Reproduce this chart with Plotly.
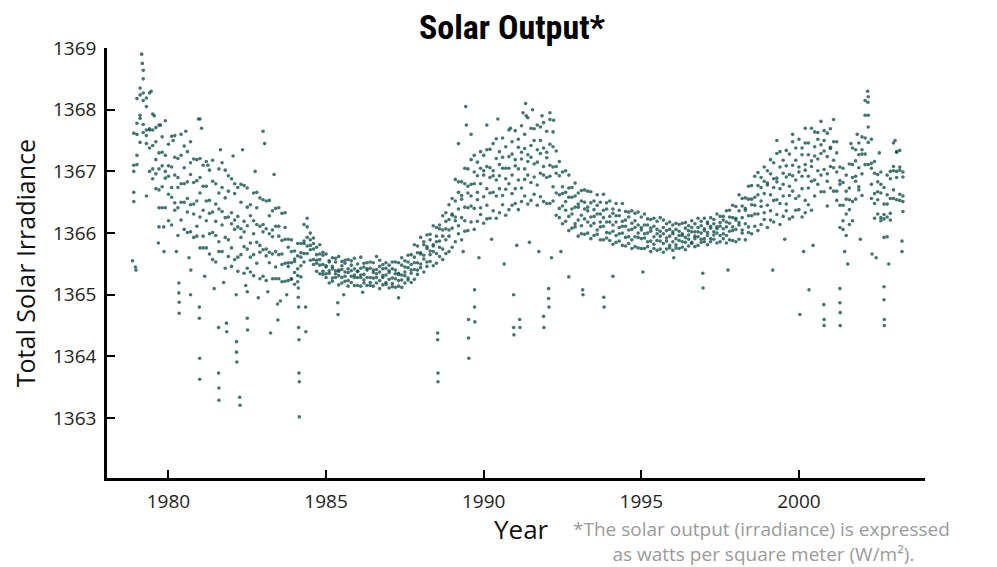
import numpy as np
import plotly.graph_objects as go

# sampling times: one reading every 0.1 year, 1978.9 .. 2003.3
sample_year = np.round(1978.9 + 0.1 * np.arange(245), 2)

tsi_upper = [
    1367.62,
    1368.18, 1368.35, 1368.64, 1368.19, 1368.27, 1367.93, 1367.71, 1367.75, 1367.56, 1367.82,  # 1979
    1367.44, 1367.57, 1367.58, 1367.21, 1367.60, 1367.41, 1367.32, 1367.48, 1367.20, 1367.19,  # 1980
    1367.21, 1367.10, 1367.16, 1367.02, 1367.18, 1366.80, 1367.04, 1367.14, 1367.02, 1366.93,  # 1981
    1366.88, 1366.80, 1366.74, 1366.79, 1366.77, 1366.73, 1366.46, 1366.65, 1366.66, 1366.57,  # 1982
    1366.54, 1366.52, 1366.53, 1366.36, 1366.40, 1366.41, 1366.32, 1366.33, 1365.90, 1365.89,  # 1983
    1365.71, 1365.83, 1365.83, 1366.14, 1366.24, 1366.00, 1365.92, 1365.77, 1365.81, 1365.69,  # 1984
    1365.66, 1365.55, 1365.60, 1365.59, 1365.62, 1365.54, 1365.56, 1365.57, 1365.55, 1365.59,  # 1985
    1365.50, 1365.61, 1365.51, 1365.52, 1365.53, 1365.52, 1365.62, 1365.56, 1365.49, 1365.52,  # 1986
    1365.48, 1365.53, 1365.53, 1365.52, 1365.60, 1365.55, 1365.64, 1365.65, 1365.81, 1365.79,  # 1987
    1365.93, 1365.86, 1365.97, 1365.98, 1366.12, 1366.09, 1366.13, 1366.28, 1366.33, 1366.46,  # 1988
    1366.56, 1366.87, 1366.83, 1366.83, 1367.05, 1367.04, 1367.19, 1367.26, 1367.15, 1367.32,  # 1989
    1367.26, 1367.35, 1367.36, 1367.45, 1367.53, 1367.32, 1367.54, 1367.40, 1367.67, 1367.48,  # 1990
    1367.66, 1367.52, 1367.74, 1367.60, 1367.87, 1367.70, 1367.69, 1367.75, 1367.72, 1367.79,  # 1991
    1367.65, 1367.84, 1367.64, 1367.33, 1367.16, 1366.99, 1367.01, 1366.94, 1366.74, 1366.81,  # 1992
    1366.65, 1366.69, 1366.70, 1366.68, 1366.67, 1366.52, 1366.62, 1366.50, 1366.63, 1366.49,  # 1993
    1366.52, 1366.39, 1366.48, 1366.37, 1366.48, 1366.35, 1366.34, 1366.36, 1366.32, 1366.34,  # 1994
    1366.26, 1366.31, 1366.23, 1366.22, 1366.24, 1366.19, 1366.25, 1366.21, 1366.15, 1366.18,  # 1995
    1366.13, 1366.16, 1366.14, 1366.16, 1366.17, 1366.12, 1366.20, 1366.15, 1366.24, 1366.19,  # 1996
    1366.24, 1366.18, 1366.25, 1366.22, 1366.31, 1366.27, 1366.27, 1366.36, 1366.37, 1366.45,  # 1997
    1366.43, 1366.62, 1366.56, 1366.57, 1366.76, 1366.77, 1366.92, 1366.98, 1366.90, 1367.07,  # 1998
    1367.01, 1367.19, 1367.14, 1367.29, 1367.32, 1367.18, 1367.34, 1367.28, 1367.48, 1367.38,  # 1999
    1367.52, 1367.38, 1367.46, 1367.46, 1367.70, 1367.64, 1367.63, 1367.81, 1367.66, 1367.62,  # 2000
    1367.69, 1367.84, 1367.48, 1367.07, 1367.05, 1366.94, 1367.12, 1367.38, 1367.35, 1367.46,  # 2001
    1367.56, 1368.15, 1368.21, 1367.52, 1367.16, 1366.95, 1366.99, 1366.74, 1366.94, 1367.00,  # 2002
    1367.46, 1367.32, 1367.34, 1366.99,  # 2003
]

tsi_high = [
    1367.10,
    1367.78, 1368.24, 1368.27, 1368.05, 1367.69, 1367.67, 1367.48, 1367.30, 1367.31, 1367.26,
    1367.09, 1367.07, 1367.23, 1366.90, 1367.26, 1367.06, 1366.83, 1367.14, 1366.82, 1366.85,
    1366.90, 1366.76, 1366.76, 1366.53, 1366.84, 1366.47, 1366.65, 1366.74, 1366.57, 1366.68,
    1366.33, 1366.64, 1366.27, 1366.50, 1366.19, 1366.42, 1366.28, 1366.20, 1366.41, 1366.11,
    1366.14, 1366.07, 1366.28, 1366.05, 1366.11, 1366.11, 1365.88, 1366.09, 1365.77, 1365.70,
    1365.58, 1365.63, 1365.68, 1365.87, 1366.10, 1365.89, 1365.83, 1365.65, 1365.66, 1365.64,
    1365.47, 1365.53, 1365.46, 1365.53, 1365.40, 1365.47, 1365.51, 1365.42, 1365.48, 1365.42,
    1365.38, 1365.43, 1365.45, 1365.42, 1365.43, 1365.40, 1365.41, 1365.46, 1365.42, 1365.43,
    1365.39, 1365.42, 1365.40, 1365.35, 1365.48, 1365.45, 1365.53, 1365.49, 1365.61, 1365.68,
    1365.68, 1365.81, 1365.78, 1365.89, 1365.81, 1365.95, 1366.07, 1366.05, 1366.19, 1366.22,
    1366.29, 1366.52, 1366.66, 1366.61, 1366.80, 1366.76, 1366.79, 1366.99, 1366.93, 1367.05,
    1367.01, 1367.08, 1367.06, 1367.01, 1367.21, 1367.11, 1367.23, 1367.05, 1367.24, 1367.28,
    1367.19, 1367.39, 1367.31, 1367.37, 1367.27, 1367.42, 1367.50, 1367.35, 1367.50, 1367.38,
    1367.31, 1367.44, 1367.40, 1367.08, 1366.93, 1366.75, 1366.66, 1366.73, 1366.58, 1366.60,
    1366.47, 1366.52, 1366.50, 1366.42, 1366.49, 1366.38, 1366.45, 1366.31, 1366.37, 1366.39,
    1366.27, 1366.32, 1366.28, 1366.28, 1366.19, 1366.21, 1366.26, 1366.16, 1366.20, 1366.13,
    1366.09, 1366.13, 1366.13, 1366.08, 1366.11, 1366.06, 1366.03, 1366.09, 1366.04, 1366.06,
    1366.02, 1366.06, 1366.03, 1365.99, 1366.08, 1366.04, 1366.09, 1366.02, 1366.09, 1366.12,
    1366.07, 1366.15, 1366.11, 1366.15, 1366.10, 1366.17, 1366.21, 1366.18, 1366.26, 1366.25,
    1366.21, 1366.36, 1366.44, 1366.40, 1366.55, 1366.55, 1366.58, 1366.77, 1366.74, 1366.84,
    1366.81, 1366.96, 1366.88, 1366.89, 1367.07, 1366.97, 1367.09, 1366.95, 1367.10, 1367.18,
    1367.07, 1367.27, 1367.11, 1367.27, 1367.17, 1367.40, 1367.52, 1367.43, 1367.50, 1367.24,
    1367.39, 1367.48, 1367.30, 1366.85, 1366.82, 1366.68, 1366.73, 1367.11, 1367.17, 1367.27,
    1367.35, 1367.91, 1367.91, 1367.13, 1366.97, 1366.83, 1366.79, 1366.47, 1366.62, 1366.88,
    1367.08, 1367.31, 1367.07, 1366.91,
]

tsi_mid = [
    1367.00,
    1367.60, 1367.91, 1368.15, 1367.67, 1367.67, 1367.42, 1367.19, 1367.04, 1367.09, 1367.00,
    1366.92, 1366.74, 1366.94, 1366.74, 1366.80, 1366.80, 1366.56, 1366.95, 1366.47, 1366.52,
    1366.65, 1366.37, 1366.52, 1366.32, 1366.34, 1366.19, 1366.39, 1366.35, 1366.25, 1366.26,
    1366.15, 1366.21, 1366.10, 1366.07, 1366.02, 1366.12, 1365.84, 1365.99, 1366.14, 1365.80,
    1366.02, 1365.74, 1365.99, 1365.94, 1365.70, 1365.95, 1365.66, 1365.90, 1365.52, 1365.52,
    1365.54, 1365.42, 1365.61, 1365.83, 1365.93, 1365.80, 1365.74, 1365.56, 1365.57, 1365.49,
    1365.45, 1365.39, 1365.42, 1365.39, 1365.38, 1365.41, 1365.37, 1365.36, 1365.39, 1365.32,
    1365.38, 1365.32, 1365.33, 1365.40, 1365.28, 1365.36, 1365.34, 1365.37, 1365.31, 1365.32,
    1365.36, 1365.27, 1365.34, 1365.33, 1365.32, 1365.37, 1365.44, 1365.40, 1365.52, 1365.52,
    1365.66, 1365.64, 1365.75, 1365.71, 1365.79, 1365.86, 1365.87, 1365.95, 1366.07, 1366.05,
    1366.31, 1366.26, 1366.39, 1366.55, 1366.42, 1366.65, 1366.60, 1366.80, 1366.66, 1366.80,
    1366.94, 1366.72, 1366.90, 1366.93, 1366.86, 1366.93, 1367.05, 1366.88, 1367.05, 1366.94,
    1367.09, 1367.04, 1367.20, 1367.04, 1367.16, 1367.23, 1367.12, 1367.15, 1367.29, 1367.08,
    1367.22, 1367.10, 1367.07, 1366.97, 1366.62, 1366.64, 1366.51, 1366.58, 1366.39, 1366.42,
    1366.42, 1366.29, 1366.39, 1366.36, 1366.26, 1366.27, 1366.31, 1366.18, 1366.25, 1366.18,
    1366.18, 1366.13, 1366.18, 1366.09, 1366.11, 1366.11, 1366.05, 1366.06, 1366.09, 1366.00,
    1366.05, 1365.99, 1366.00, 1366.03, 1365.94, 1365.99, 1365.95, 1365.99, 1365.92, 1365.95,
    1365.99, 1365.91, 1365.96, 1365.96, 1365.93, 1365.97, 1366.02, 1365.95, 1366.02, 1366.00,
    1366.04, 1366.01, 1366.08, 1366.02, 1366.07, 1366.11, 1366.07, 1366.10, 1366.16, 1366.10,
    1366.24, 1366.17, 1366.25, 1366.37, 1366.28, 1366.46, 1366.45, 1366.62, 1366.52, 1366.64,
    1366.78, 1366.62, 1366.74, 1366.83, 1366.72, 1366.79, 1366.91, 1366.76, 1366.93, 1366.86,
    1366.99, 1366.92, 1367.02, 1366.92, 1367.08, 1367.25, 1367.20, 1367.29, 1367.33, 1366.96,
    1367.37, 1367.18, 1366.99, 1366.79, 1366.45, 1366.55, 1366.54, 1366.90, 1366.92, 1367.06,
    1367.28, 1367.54, 1367.72, 1367.05, 1366.64, 1366.67, 1366.65, 1366.30, 1366.47, 1366.56,
    1367.01, 1367.00, 1367.02, 1366.60,
]

tsi_low = [
    1366.66,
    1367.26, 1367.86, 1367.76, 1367.58, 1367.38, 1367.04, 1366.96, 1366.70, 1366.75, 1366.89,
    1366.63, 1366.58, 1366.49, 1366.41, 1366.50, 1366.50, 1366.34, 1366.46, 1366.31, 1366.11,
    1366.26, 1365.95, 1366.20, 1365.99, 1366.01, 1365.96, 1365.86, 1366.13, 1365.93, 1365.89,
    1365.76, 1366.06, 1365.61, 1365.93, 1365.78, 1365.74, 1365.61, 1365.65, 1365.85, 1365.69,
    1365.73, 1365.63, 1365.69, 1365.66, 1365.45, 1365.65, 1365.49, 1365.51, 1365.46, 1365.26,
    1365.36, 1365.31, 1365.47, 1365.67, 1365.79, 1365.73, 1365.57, 1365.51, 1365.48, 1365.38,
    1365.34, 1365.35, 1365.27, 1365.34, 1365.31, 1365.28, 1365.30, 1365.23, 1365.30, 1365.28,
    1365.28, 1365.28, 1365.24, 1365.28, 1365.20, 1365.27, 1365.28, 1365.23, 1365.28, 1365.20,
    1365.25, 1365.18, 1365.26, 1365.23, 1365.24, 1365.31, 1365.27, 1365.35, 1365.41, 1365.40,
    1365.50, 1365.58, 1365.53, 1365.65, 1365.70, 1365.67, 1365.77, 1365.74, 1365.89, 1365.95,
    1366.08, 1366.20, 1366.12, 1366.25, 1366.20, 1366.41, 1366.44, 1366.40, 1366.54, 1366.41,
    1366.59, 1366.45, 1366.65, 1366.66, 1366.60, 1366.72, 1366.61, 1366.71, 1366.80, 1366.64,
    1366.72, 1366.86, 1366.73, 1366.87, 1366.94, 1366.82, 1366.91, 1366.78, 1366.97, 1366.94,
    1366.90, 1366.92, 1366.75, 1366.65, 1366.40, 1366.44, 1366.37, 1366.27, 1366.31, 1366.15,
    1366.21, 1366.12, 1366.23, 1366.18, 1366.12, 1366.16, 1366.05, 1366.10, 1366.11, 1366.01,
    1366.00, 1366.03, 1365.96, 1365.99, 1366.00, 1365.93, 1365.94, 1365.89, 1365.94, 1365.93,
    1365.91, 1365.92, 1365.86, 1365.87, 1365.82, 1365.88, 1365.87, 1365.83, 1365.87, 1365.80,
    1365.86, 1365.81, 1365.88, 1365.86, 1365.85, 1365.90, 1365.85, 1365.91, 1365.94, 1365.90,
    1365.91, 1365.96, 1365.91, 1365.97, 1366.00, 1365.96, 1365.99, 1365.96, 1366.03, 1366.04,
    1366.06, 1366.13, 1366.05, 1366.15, 1366.10, 1366.28, 1366.31, 1366.31, 1366.43, 1366.33,
    1366.45, 1366.36, 1366.53, 1366.54, 1366.48, 1366.60, 1366.47, 1366.61, 1366.68, 1366.56,
    1366.60, 1366.72, 1366.53, 1366.73, 1366.84, 1366.86, 1367.01, 1366.94, 1367.03, 1366.84,
    1367.08, 1367.06, 1366.68, 1366.45, 1366.20, 1366.31, 1366.38, 1366.51, 1366.84, 1366.75,
    1366.96, 1367.28, 1367.47, 1366.79, 1366.48, 1366.54, 1366.25, 1366.23, 1366.26, 1366.32,
    1366.70, 1366.90, 1366.63, 1366.51,
]

tsi_lower = [
    1366.51,
    1367.11, 1367.47, 1367.63, 1367.45, 1367.00, 1366.88, 1366.72, 1366.41, 1366.41, 1366.41,
    1366.20, 1366.13, 1366.37, 1365.96, 1366.21, 1366.06, 1366.01, 1366.02, 1365.93, 1365.95,
    1365.76, 1365.76, 1365.76, 1365.66, 1365.57, 1365.53, 1365.70, 1365.70, 1365.43, 1365.62,
    1365.46, 1365.57, 1365.38, 1365.65, 1365.35, 1365.43, 1365.37, 1365.31, 1365.51, 1365.26,
    1365.30, 1365.23, 1365.52, 1365.26, 1365.26, 1365.26, 1365.21, 1365.22, 1365.23, 1365.25,
    1365.17, 1365.21, 1365.29, 1365.53, 1365.67, 1365.56, 1365.49, 1365.38, 1365.34, 1365.33,
    1365.28, 1365.19, 1365.22, 1365.28, 1365.16, 1365.19, 1365.22, 1365.14, 1365.20, 1365.15,
    1365.15, 1365.14, 1365.19, 1365.15, 1365.15, 1365.14, 1365.19, 1365.10, 1365.16, 1365.17,
    1365.11, 1365.13, 1365.12, 1365.14, 1365.12, 1365.19, 1365.24, 1365.20, 1365.25, 1365.33,
    1365.44, 1365.37, 1365.46, 1365.54, 1365.47, 1365.51, 1365.62, 1365.57, 1365.67, 1365.70,
    1365.77, 1365.86, 1365.99, 1365.89, 1366.03, 1366.04, 1366.18, 1366.06, 1366.19, 1366.30,
    1366.16, 1366.23, 1366.24, 1366.36, 1366.24, 1366.33, 1366.46, 1366.29, 1366.38, 1366.45,
    1366.48, 1366.38, 1366.51, 1366.60, 1366.47, 1366.53, 1366.63, 1366.45, 1366.59, 1366.51,
    1366.48, 1366.48, 1366.52, 1366.29, 1366.25, 1366.15, 1366.19, 1366.04, 1366.08, 1366.10,
    1365.95, 1365.99, 1365.98, 1366.00, 1365.91, 1365.96, 1365.98, 1365.89, 1365.89, 1365.92,
    1365.88, 1365.82, 1365.85, 1365.87, 1365.80, 1365.79, 1365.83, 1365.75, 1365.78, 1365.76,
    1365.75, 1365.75, 1365.78, 1365.70, 1365.75, 1365.72, 1365.74, 1365.69, 1365.74, 1365.76,
    1365.72, 1365.76, 1365.75, 1365.77, 1365.73, 1365.79, 1365.83, 1365.78, 1365.80, 1365.85,
    1365.86, 1365.81, 1365.86, 1365.90, 1365.84, 1365.86, 1365.91, 1365.84, 1365.89, 1365.88,
    1365.86, 1365.90, 1366.00, 1365.89, 1366.01, 1365.99, 1366.11, 1366.04, 1366.14, 1366.22,
    1366.09, 1366.21, 1366.18, 1366.30, 1366.14, 1366.27, 1366.36, 1366.23, 1366.26, 1366.37,
    1366.38, 1366.26, 1366.33, 1366.46, 1366.37, 1366.60, 1366.79, 1366.67, 1366.67, 1366.44,
    1366.73, 1366.68, 1366.53, 1366.09, 1366.06, 1365.96, 1366.14, 1366.20, 1366.55, 1366.70,
    1366.61, 1367.11, 1367.11, 1366.56, 1366.24, 1366.31, 1366.20, 1365.93, 1365.94, 1366.21,
    1366.56, 1366.54, 1366.53, 1366.35,
]

# stray readings: sunspot dips, high spikes and the wide scatter of active years
extra_year = [
    1978.86, 1978.95, 1978.97, 1979.68, 1979.70, 1979.86,
    1980.33, 1980.33, 1980.34, 1980.34, 1980.70, 1980.71,
    1980.98, 1980.98, 1980.99, 1980.99, 1981.59, 1981.59, 1981.60, 1981.60,
    1981.84, 1981.85, 1982.16, 1982.16, 1982.17, 1982.26, 1982.27,
    1982.50, 1982.50, 1982.51, 1983.24, 1983.46, 1983.47,
    1984.12, 1984.12, 1984.13, 1984.13, 1984.14, 1984.14, 1984.15, 1984.15,
    1984.35, 1984.36, 1985.37, 1985.38, 1985.56, 1986.16, 1987.30,
    1988.54, 1988.54, 1988.55, 1988.55, 1989.52, 1989.52, 1989.53,
    1989.71, 1989.71, 1989.72, 1990.95, 1990.95, 1990.96, 1991.14, 1991.15,
    1991.90, 1991.91, 1992.06, 1992.06, 1992.07, 1992.70, 1993.14, 1993.15,
    1993.81, 1993.82, 1994.10, 1995.05, 1996.03, 1996.95, 1996.96, 1997.75, 1999.17,
    2000.03, 2000.32, 2000.79, 2000.80, 2000.80,
    2001.30, 2001.30, 2001.31, 2001.31, 2001.55, 2002.32,
    2002.70, 2002.70, 2002.71, 2002.71, 2003.27, 2003.27,
    1979.15, 1979.17, 1979.20, 1981.00, 1983.00, 1989.43, 1989.45,
    1991.33, 1991.35, 1992.22, 2002.18, 2002.19,
    1979.45, 1979.55, 1979.75, 1980.15, 1980.55, 1980.95, 1981.05, 1981.25,
    1981.65, 1982.05, 1982.35, 1982.75, 1983.05, 1983.35,
    1979.30, 1979.85, 1980.25, 1980.65, 1981.15, 1981.45, 1981.75, 1982.15,
    1982.45, 1982.85, 1983.15, 1983.55, 1983.75,
    1989.20, 1989.60, 1990.10, 1990.45, 1990.85, 1991.25, 1991.55, 1991.85, 1992.10,
    1989.35, 1989.85, 1990.25, 1990.65, 1991.05, 1991.45, 1991.75, 1992.15, 1992.45,
    1999.30, 1999.80, 2000.20, 2001.65, 2001.85, 2002.55, 2003.05,
    1999.55, 2000.15, 2000.45, 2001.45, 2001.95, 2002.45, 2002.85,
]
extra_tsi = [
    1365.55, 1365.45, 1365.40, 1365.84, 1366.10, 1365.70,
    1365.19, 1365.03, 1364.88, 1364.70, 1365.00, 1365.40,
    1364.80, 1364.62, 1363.97, 1363.63, 1364.47, 1363.73, 1363.49, 1363.29,
    1364.54, 1364.40, 1364.24, 1364.07, 1363.91, 1363.34, 1363.21,
    1365.05, 1364.62, 1364.43, 1364.38, 1364.85, 1364.59,
    1365.11, 1364.96, 1364.80, 1364.47, 1364.27, 1363.73, 1363.59, 1363.02,
    1364.80, 1364.40, 1364.87, 1364.68, 1365.00, 1365.04, 1364.95,
    1364.38, 1364.27, 1363.73, 1363.59, 1364.60, 1364.30, 1363.97,
    1365.08, 1364.80, 1364.56, 1365.00, 1364.47, 1364.35, 1364.60, 1364.47,
    1364.65, 1364.47, 1365.10, 1364.94, 1364.80, 1365.29, 1365.08, 1365.00,
    1364.96, 1364.80, 1365.30, 1365.37, 1365.60, 1365.35, 1365.11, 1365.40, 1365.40,
    1364.68, 1365.08, 1364.84, 1364.60, 1364.50,
    1365.10, 1364.87, 1364.71, 1364.50, 1365.50, 1365.66,
    1365.13, 1364.92, 1364.60, 1364.50, 1365.87, 1365.70,
    1368.90, 1368.75, 1368.50, 1367.85, 1367.65, 1368.05, 1367.75,
    1368.10, 1367.90, 1367.83, 1368.30, 1368.12,
    1368.30, 1367.90, 1367.75, 1367.50, 1367.65, 1367.85, 1367.70, 1367.10,
    1367.35, 1367.25, 1367.35, 1367.00, 1367.45, 1366.95,
    1366.60, 1366.10, 1365.70, 1365.60, 1365.30, 1365.10, 1365.20, 1365.00,
    1365.15, 1364.95, 1365.05, 1364.90, 1365.00,
    1367.45, 1367.60, 1367.75, 1367.85, 1367.70, 1367.95, 1368.00, 1367.90, 1367.95,
    1365.70, 1365.60, 1365.90, 1365.50, 1365.80, 1365.85, 1365.70, 1365.60, 1365.70,
    1367.50, 1367.60, 1367.70, 1367.45, 1367.60, 1367.30, 1367.50,
    1365.90, 1365.70, 1365.80, 1365.70, 1365.90, 1365.60, 1365.50,
]

dot_color = "#14524e"
dot_marker = dict(size=3.6, color=dot_color, opacity=0.8, line=dict(width=0))

fig = go.Figure()

for values in [tsi_upper, tsi_high, tsi_mid, tsi_low, tsi_lower]:
    fig.add_trace(go.Scatter(
        x=sample_year, y=values, mode="markers",
        marker=dot_marker, hoverinfo="x+y", showlegend=False,
    ))

fig.add_trace(go.Scatter(
    x=extra_year, y=extra_tsi, mode="markers",
    marker=dot_marker, hoverinfo="x+y", showlegend=False,
))

txt_family = "Open Sans, Roboto, Liberation Sans, Arial"
axis_font = dict(family=txt_family, size=19, color="#222222")

# footnote as one text block; the second line is indented with no-break spaces
footnote = ("*The solar output (irradiance) is expressed<br>"
            + "&#160;" * 8 + "as watts per square meter (W/m²).")

# the page body has an 8px margin, so the figure is sized to fit inside it
fig.update_layout(
    width=989,
    height=559,
    plot_bgcolor="white",
    paper_bgcolor="white",
    margin=dict(l=99, r=72, t=40, b=89),
    title=dict(
        text="<b>Solar Output*</b>",
        x=0.5096, xanchor="center",
        y=0.965, yanchor="middle",
        font=dict(family="Liberation Sans Narrow, Roboto Condensed, Noto Sans Condensed, Roboto",
                  size=34, color="black"),
    ),
    xaxis=dict(
        range=[1978.05, 2004.0],
        tickvals=[1980, 1985, 1990, 1995, 2000],
        ticks="inside", ticklen=8, tickwidth=2, tickcolor="black",
        showline=True, linewidth=2.5, linecolor="black",
        showgrid=False, zeroline=False,
        tickfont=axis_font, ticklabelstandoff=4,
    ),
    yaxis=dict(
        range=[1362.03, 1369.0],
        tickvals=[1363, 1364, 1365, 1366, 1367, 1368, 1369],
        ticks="inside", ticklen=8, tickwidth=2, tickcolor="black",
        showline=True, linewidth=2.5, linecolor="black",
        showgrid=False, zeroline=False,
        tickfont=axis_font, ticklabelstandoff=4,
    ),
    annotations=[
        dict(text="Total Solar Irradiance", xref="paper", yref="paper",
             x=-0.1, y=0.5, textangle=-90, showarrow=False,
             xanchor="center", yanchor="middle",
             font=dict(family=txt_family, size=25, color="#111111")),
        dict(text="Year", xref="paper", yref="paper",
             x=0.507, y=-0.119, showarrow=False,
             xanchor="center", yanchor="middle",
             font=dict(family=txt_family, size=26, color="#111111")),
        dict(text=footnote, xref="paper", yref="paper", x=0.567, y=-0.147,
             showarrow=False, xanchor="left", yanchor="middle", align="left",
             font=dict(family=txt_family, size=19, color="#9a9a9a")),
    ],
)

fig.write_html("out.html")
